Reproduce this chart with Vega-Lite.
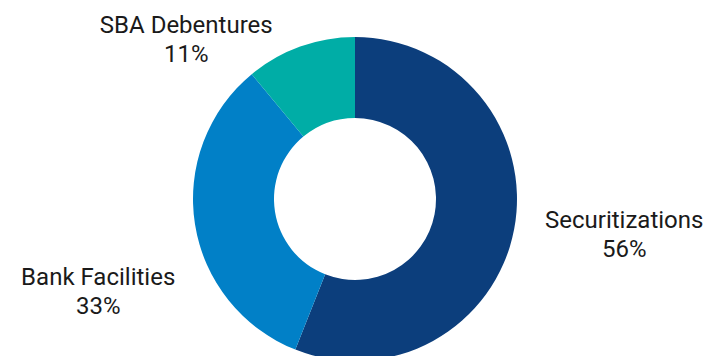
{
  "$schema": "https://vega.github.io/schema/vega-lite/v6.json",
  "width": 710,
  "height": 398,
  "autosize": "none",
  "padding": 0,
  "background": "white",
  "view": {"stroke": null},
  "data": {"values": [
    {"category": "Securitizations", "value": 56, "label": "Securitizations\n56%"},
    {"category": "Bank Facilities", "value": 33, "label": "Bank Facilities\n33%"},
    {"category": "SBA Debentures", "value": 11, "label": "SBA Debentures\n11%"}
  ]},
  "encoding": {
    "theta": {"field": "value", "type": "quantitative", "stack": true},
    "order": {"field": "value", "type": "quantitative", "sort": "descending"}
  },
  "layer": [
    {
      "mark": {"type": "arc", "outerRadius": 162, "innerRadius": 81, "stroke": null},
      "encoding": {
        "color": {
          "field": "category", "type": "nominal",
          "scale": {"domain": ["Securitizations", "Bank Facilities", "SBA Debentures"], "range": ["#0C3E7C", "#0180C7", "#00ADA6"]},
          "legend": null
        }
      }
    },
    {
      "mark": {
        "type": "text",
        "radius": {"expr": "datum.category == 'Securitizations' ? 270 : datum.category == 'Bank Facilities' ? 260 : 200"},
        "dx": {"expr": "datum.category == 'SBA Debentures' ? -101 : datum.category == 'Securitizations' ? 4 : 0"},
        "dy": {"expr": "datum.category == 'Securitizations' ? -29 : datum.category == 'Bank Facilities' ? 38 : 15"},
        "font": "Roboto", "fontSize": 24, "lineBreak": "\n", "lineHeight": 29,
        "align": "center", "baseline": "middle", "color": "#1a1a1a"
      },
      "encoding": {"text": {"field": "label", "type": "nominal"}}
    }
  ]
}
